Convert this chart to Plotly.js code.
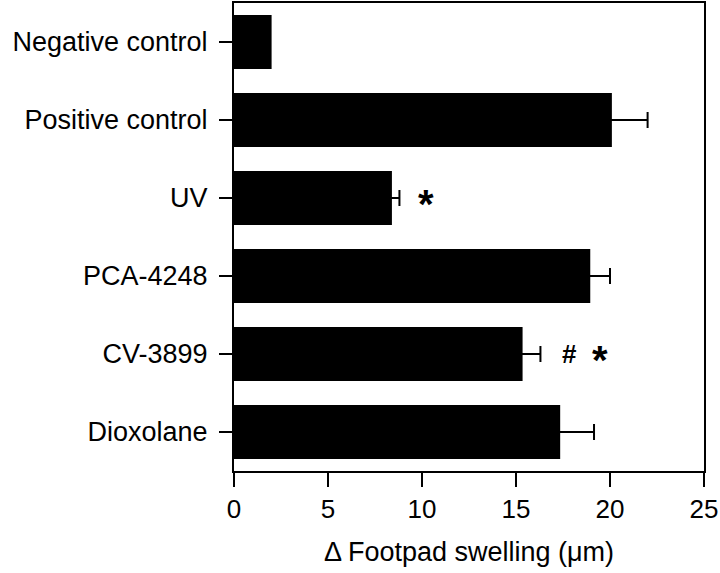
<!DOCTYPE html>
<html>
<head>
<meta charset="utf-8">
<script src="https://cdn.plot.ly/plotly-3.0.1.min.js"></script>
<style>html,body{margin:0;padding:0;background:#fff;}#chart{width:720px;height:573px;}</style>
</head>
<body>
<div id="chart"></div>
<script>
const categories = ["Negative control", "Positive control", "UV", "PCA-4248", "CV-3899", "Dioxolane"];
const swelling = [2.0, 20.1, 8.4, 18.95, 15.35, 17.35];
const errors = [NaN, 1.9, 0.4, 1.05, 0.95, 1.8];
const markCategories = ["UV", "CV-3899", "CV-3899"];
const markX = [10.2, 17.85, 19.45];
const markText = ["*", "#", "*"];

const fontFam = "Liberation Sans, Arial, sans-serif";

const trace = {
  type: "bar",
  orientation: "h",
  y: categories,
  x: swelling,
  width: 0.69,
  marker: {color: "#000000", line: {width: 0}},
  error_x: {type: "data", array: errors, visible: true, color: "#000000", thickness: 2, width: 8},
  hoverinfo: "none"
};

const annotations = markText.map((t, i) => ({
  x: markX[i], y: markCategories[i], xref: "x", yref: "y",
  text: "<b>" + t + "</b>",
  showarrow: false,
  font: {family: fontFam, size: t === "*" ? 40 : 26, color: "#000"},
  yshift: t === "*" ? -6 : 0
}));

const layout = {
  width: 720, height: 573,
  margin: {l: 234, r: 16, t: 3, b: 102},
  paper_bgcolor: "#fff", plot_bgcolor: "#fff",
  showlegend: false,
  font: {family: fontFam, color: "#000", size: 23},
  xaxis: {
    range: [0, 25], tickvals: [0, 5, 10, 15, 20, 25], ticktext: ["0", "5", "10", "15", "20", "25"],
    ticks: "outside", ticklen: 14, tickwidth: 2, tickcolor: "#000",
    showline: true, linewidth: 2, linecolor: "#000", mirror: true,
    showgrid: false, zeroline: false,
    tickfont: {size: 26},
    title: {text: "Δ Footpad swelling (μm)", font: {size: 27}, standoff: 19}
  },
  yaxis: {
    type: "category", categoryorder: "array", categoryarray: categories,
    autorange: "reversed",
    ticks: "outside", ticklen: 13, tickwidth: 2, tickcolor: "#000",
    showline: true, linewidth: 2, linecolor: "#000", mirror: true,
    showgrid: false, zeroline: false,
    tickfont: {size: 27},
    ticklabelstandoff: 6
  },
  annotations: annotations
};

Plotly.newPlot("chart", [trace], layout, {staticPlot: true, displayModeBar: false});
</script>
</body>
</html>
